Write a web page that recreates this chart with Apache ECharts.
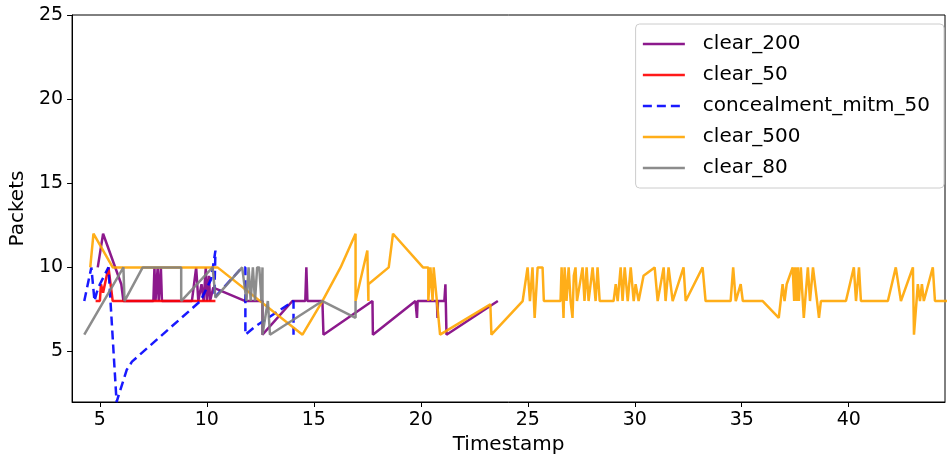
<!DOCTYPE html>
<html>
<head>
<meta charset="utf-8">
<script src="https://cdn.jsdelivr.net/npm/echarts@6/dist/echarts.min.js"></script>
<style>
  html, body { margin: 0; padding: 0; background: #fff; }
  #chart { width: 947px; height: 463px; }
</style>
</head>
<body>
<div id="chart"></div>
<script>
// series names
const seriesNames = ['clear_200', 'clear_50', 'concealment_mitm_50', 'clear_500', 'clear_80']
const xTicks = [5, 10, 15, 20, 25, 30, 35, 40]
const yTicks = [5, 10, 15, 20, 25]

// [timestamp, packets]
const clear200 = [
  [4.9, 10], [5.15, 12], [6.0, 9], [6.1, 8], [7.5, 8], [7.55, 10], [7.6, 8], [7.7, 10], [7.75, 8],
  [7.85, 10], [7.9, 8], [9.3, 8], [9.5, 10], [9.6, 8], [9.75, 9], [9.85, 8], [9.95, 10], [10.0, 8],
  [10.1, 9.5], [10.15, 8], [10.3, 8.8], [11.8, 8], [12.6, 8], [12.6, 6], [14.0, 8], [14.6, 8],
  [14.65, 10], [14.7, 8], [15.4, 8], [15.45, 6], [17.74, 8], [17.76, 6], [19.75, 8], [19.8, 8],
  [19.82, 7], [19.85, 8], [20.75, 8], [20.78, 7], [20.8, 8], [21.1, 8], [21.15, 9], [21.2, 6], [23.6, 8],
]
const clear50 = [
  [4.8, 8], [5.0, 8], [5.05, 9], [5.15, 8.5], [5.4, 10], [5.6, 8], [10.4, 8],
]
const concealment50 = [
  [4.27, 8], [4.6, 10], [4.75, 8], [4.85, 8.5], [5.0, 9], [5.4, 10], [5.78, 2], [6.25, 3.9], [6.5, 4.4],
  [9.7, 8], [10.2, 9.3], [10.4, 11], [10.35, 8.2], [11.65, 10], [11.8, 10], [11.8, 6], [12.27, 6.5],
  [14.05, 8], [14.05, 6],
]
const clear500 = [
  [4.55, 10], [4.7, 12], [5.6, 10], [10.5, 10], [14.47, 6], [15.4, 8], [16.25, 10], [16.95, 12],
  [16.95, 8], [17.5, 11], [17.55, 8], [17.55, 9], [18.5, 10], [18.7, 12], [20.1, 10], [20.35, 10],
  [20.35, 8], [20.45, 10], [20.55, 8], [20.6, 10], [20.9, 6], [23.25, 7.8], [23.3, 6], [24.76, 8],
  [24.99, 10], [25.1, 8], [25.22, 10], [25.32, 7], [25.46, 10], [25.69, 10], [25.75, 8], [26.53, 8],
  [26.58, 10], [26.67, 7], [26.72, 10], [26.81, 8], [26.91, 10], [27.0, 8], [27.09, 7], [27.15, 9.5],
  [27.23, 10], [27.3, 8], [27.56, 10], [27.65, 8], [27.75, 10], [27.84, 8], [28.03, 10], [28.17, 8],
  [28.26, 10], [28.36, 8], [29.01, 8], [29.11, 9], [29.2, 8], [29.34, 10], [29.43, 8], [29.53, 10],
  [29.67, 8], [29.81, 10], [29.95, 8], [30.04, 9], [30.18, 8], [30.41, 9.5], [30.93, 10], [31.07, 8],
  [31.35, 10], [31.44, 8], [31.58, 10], [31.77, 8], [32.28, 10], [32.38, 8], [33.17, 10], [33.31, 8],
  [34.48, 8], [34.6, 10], [34.72, 8], [34.95, 9], [35.05, 8], [35.98, 8], [36.73, 7], [36.82, 8],
  [36.91, 9], [37.0, 8], [37.1, 9], [37.38, 10], [37.45, 8], [37.5, 10], [37.57, 8], [37.62, 10],
  [37.67, 8], [37.76, 10], [37.9, 7], [38.09, 10], [38.19, 8], [38.33, 10], [38.52, 8], [38.61, 7],
  [38.7, 8], [39.87, 8], [40.24, 10], [40.34, 8], [40.48, 10], [40.57, 8], [41.83, 8], [42.2, 10],
  [42.44, 8], [43.0, 10], [43.05, 6], [43.23, 9], [43.33, 8], [43.42, 9], [43.51, 8], [43.93, 10],
  [44.03, 8], [44.6, 8],
]
const clear80 = [
  [4.27, 6], [6.1, 10], [6.15, 8], [7.0, 10], [8.8, 10], [8.8, 8], [10.27, 10], [10.4, 8.2],
  [11.65, 10], [11.85, 8], [11.95, 10], [12.05, 8], [12.15, 10], [12.25, 8], [12.35, 10], [12.45, 10],
  [12.55, 8], [12.6, 10], [12.6, 6], [12.85, 8], [12.95, 6], [15.4, 8], [16.95, 7], [16.95, 8],
]

const colors = ['rgba(128,0,128,0.9)', 'rgba(255,0,0,0.9)', 'rgba(0,0,255,0.9)', 'rgba(255,165,0,0.9)', 'rgba(128,128,128,0.9)']
const dataList = [clear200, clear50, concealment50, clear500, clear80]
const font = 'DejaVu Sans'

let seriesData = []
dataList.forEach((d, i) => {
  seriesData.push({
    name: seriesNames[i],
    type: 'line',
    data: d,
    color: colors[i],
    showSymbol: false,
    symbol: 'none',
    animation: false,
    lineStyle: {
      width: 2.5,
      type: i == 2 ? [9, 5] : 'solid',
    },
  })
})

const myChart = echarts.init(document.getElementById('chart'))
const option = {
  animation: false,
  grid: {
    left: 71,
    right: 2,
    top: 15,
    bottom: 61,
    show: true,
    borderColor: '#000',
    borderWidth: 1,
  },
  legend: {
    orient: 'vertical',
    right: 3,
    top: 24,
    itemWidth: 42,
    itemHeight: 14,
    itemGap: 11,
    padding: [10, 14, 10, 6],
    borderColor: '#ccc',
    borderWidth: 1,
    borderRadius: 4,
    backgroundColor: 'rgba(255,255,255,0.8)',
    itemStyle: { opacity: 0 },
    lineStyle: { width: 2.5 },
    textStyle: {
      fontFamily: font,
      fontSize: 20,
      color: '#000',
      lineHeight: 20,
      padding: [0, 0, 0, 13],
    },
    data: seriesNames,
  },
  xAxis: {
    type: 'value',
    min: 3.7,
    max: 44.5,
    name: 'Timestamp',
    nameLocation: 'middle',
    nameGap: 33,
    nameTextStyle: { fontFamily: font, fontSize: 20, color: '#000' },
    axisLine: { show: true, lineStyle: { color: '#000', width: 1 } },
    axisTick: { show: true, length: 5, customValues: xTicks, lineStyle: { color: '#000' } },
    axisLabel: { customValues: xTicks, margin: 9, fontFamily: font, fontSize: 19, color: '#000' },
    splitLine: { show: false },
  },
  yAxis: {
    type: 'value',
    min: 2,
    max: 25,
    name: 'Packets',
    nameLocation: 'middle',
    nameGap: 35,
    nameTextStyle: { fontFamily: font, fontSize: 20, color: '#000' },
    axisLine: { show: true, lineStyle: { color: '#000', width: 1 } },
    axisTick: { show: true, length: 5, customValues: yTicks, lineStyle: { color: '#000' } },
    axisLabel: { customValues: yTicks, margin: 9, fontFamily: font, fontSize: 19, color: '#000' },
    splitLine: { show: false },
  },
  series: seriesData,
}
myChart.setOption(option)
</script>
</body>
</html>
